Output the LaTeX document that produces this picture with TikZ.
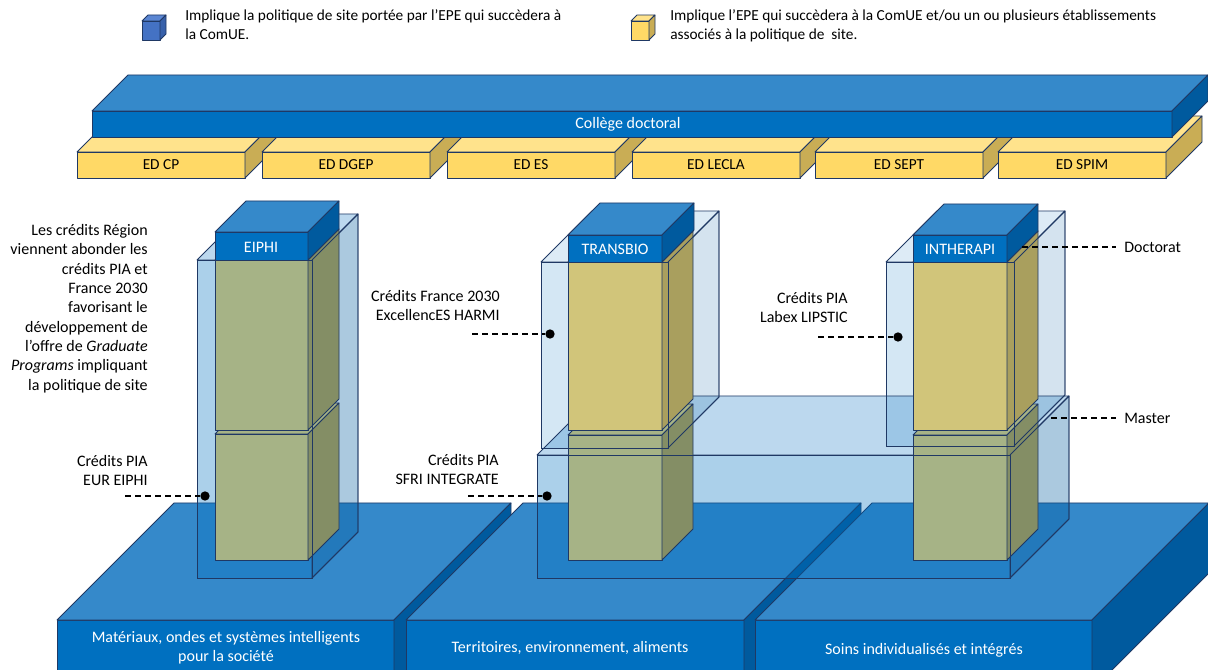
\documentclass[tikz,border=0pt]{standalone}
\usepackage{fontspec}
\setmainfont{Carlito}
\usetikzlibrary{positioning}

\definecolor{edge}{HTML}{1F3864}
\definecolor{bluefront}{HTML}{0070C0}
\definecolor{bluetop}{HTML}{3589CA}
\definecolor{blueside}{HTML}{005A9E}
\definecolor{edfront}{HTML}{FFD966}
\definecolor{edtop}{HTML}{FFE38C}
\definecolor{edside}{HTML}{C9AD55}
\definecolor{docfront}{HTML}{D1C57A}
\definecolor{docside}{HTML}{A99F5E}
\definecolor{masfront}{HTML}{A6B386}
\definecolor{masside}{HTML}{848E65}
\definecolor{legblue}{HTML}{4472C4}
\definecolor{legbluetop}{HTML}{5B86D3}
\definecolor{legblueside}{HTML}{3760AA}

% box seen from the front: [opts]{x}{y}{width}{height}{depth}{front}{top}{side}
\newcommand{\cuboid}[9][]{%
  \path[#1, fill=#7] (#2,#3) rectangle ++(#4,#5);
  \path[#1, fill=#8] (#2,#3) -- ++(#6,-#6) -- ++(#4,0) -- ++(-#6,#6) -- cycle;
  \path[#1, fill=#9] ({#2+#4},#3) -- ++(#6,-#6) -- ++(0,#5) -- ++(-#6,#6) -- cycle;
}
% front and side edges only of a glass box: {x}{y}{width}{height}{depth}
\newcommand{\glassfront}[5]{%
  \draw[rim] (#1,#2) rectangle ++(#3,#4);
  \draw[rim] ({#1+#3},#2) -- ++(#5,-#5) -- ++(0,#4) -- ++(-#5,#5);
}

\begin{document}
\begin{tikzpicture}[
    x=0.75pt, y=-0.75pt,
    solid/.style={draw=edge, line width=0.6pt, line join=round},
    glass/.style={fill opacity=0.33},
    haze/.style={fill opacity=0.17},
    rim/.style={draw=edge, line width=0.6pt, line join=round, fill=none},
    lbl/.style={font=\fontsize{12}{14.5}\selectfont, align=right, inner sep=0pt},
    legtxt/.style={font=\fontsize{11.5}{14.2}\selectfont, align=left, inner sep=0pt},
    edtxt/.style={font=\fontsize{11.5}{12}\selectfont},
    whitetxt/.style={text=white, font=\fontsize{12}{14.2}\selectfont, align=center},
    lead/.style={dash pattern=on 4.5pt off 3pt, line width=0.8pt},
    dot/.style={circle, fill=black, inner sep=0pt, minimum size=7pt}
]
\useasboundingbox (0,0) rectangle (1208,670);
\clip (0,0) rectangle (1208,670);

% legend
\cuboid[solid]{142}{21}{18}{19}{6}{legblue}{legbluetop}{legblueside}
\node[legtxt, anchor=north west] (legsite) at (185,9)
  {Implique la politique de site portée par l’EPE qui succèdera à\\la ComUE.};
\cuboid[solid]{631}{21}{18}{19}{6}{edfront}{edtop}{edside}
\node[legtxt, anchor=north west] (legassoc) at (670,9)
  {Implique l’EPE qui succèdera à la ComUE et/ou un ou plusieurs établissements\\associés à la politique de~~site.};

% ecoles doctorales
\foreach \x/\ed in {77/ED CP, 262/ED DGEP, 447/ED ES, 632/ED LECLA, 815/ED SEPT, 998/ED SPIM}{
  \cuboid[solid]{\x}{152}{168}{26}{36}{edfront}{edtop}{edside}
  \node[edtxt] (ed\x) at (\x+84,165) {\ed};
}

% college doctoral
\cuboid[solid]{92}{111}{1080}{26}{36}{bluefront}{bluetop}{blueside}
\node[whitetxt] (college) at (628,124) {Collège doctoral};

% domaines
\cuboid[solid]{57}{620}{337}{70}{117}{bluefront}{bluetop}{blueside}
\cuboid[solid]{406}{620}{338}{70}{117}{bluefront}{bluetop}{blueside}
\cuboid[solid]{755}{620}{337}{70}{117}{bluefront}{bluetop}{blueside}
\node[whitetxt] (dom1) at (226,648) {Matériaux, ondes et systèmes intelligents\\pour la société};
\node[whitetxt] (dom2) at (570,648) {Territoires, environnement, aliments};
\node[whitetxt] (dom3) at (924,650) {Soins individualisés et intégrés};

% glass boxes, filled behind the columns
\cuboid[glass]{197}{260}{115}{318}{46}{bluefront}{bluetop}{blueside}
\cuboid[glass]{537}{455}{473}{123}{59}{bluefront}{bluetop}{blueside}
\cuboid[haze]{541}{262}{127}{186}{51}{bluefront}{bluetop}{blueside}
\cuboid[haze]{886}{262}{128}{184}{51}{bluefront}{bluetop}{blueside}
\cuboid[rim]{197}{260}{115}{318}{46}{none}{none}{none}
\cuboid[rim]{537}{455}{473}{123}{59}{none}{none}{none}
\cuboid[rim]{541}{262}{127}{186}{51}{none}{none}{none}
\cuboid[rim]{886}{262}{128}{184}{51}{none}{none}{none}

% columns: master then doctorat
\cuboid[solid]{215}{434}{93}{126}{31}{masfront}{masfront}{masside}
\cuboid[solid]{215}{260}{93}{170}{31}{masfront}{masfront}{masside}
\cuboid[solid]{568}{435}{94}{125}{31}{masfront}{masfront}{masside}
\cuboid[solid]{568}{262}{94}{168}{31}{docfront}{docfront}{docside}
\cuboid[solid]{913}{435}{94}{125}{31}{masfront}{masfront}{masside}
\cuboid[solid]{913}{262}{94}{168}{31}{docfront}{docfront}{docside}

% glass box edges in front of the columns
\glassfront{197}{260}{115}{318}{46}
\glassfront{537}{455}{473}{123}{59}
\glassfront{541}{262}{127}{186}{51}
\glassfront{886}{262}{128}{184}{51}

% caps
\cuboid[solid]{215}{232}{93}{28}{31}{bluefront}{bluetop}{blueside}
\cuboid[solid]{568}{235}{94}{27}{32}{bluefront}{bluetop}{blueside}
\cuboid[solid]{913}{235}{94}{27}{31}{bluefront}{bluetop}{blueside}
\node[whitetxt] (eiphi) at (261,247) {EIPHI};
\node[whitetxt] (transbio) at (615,249) {TRANSBIO};
\node[whitetxt] (intherapi) at (960,249) {INTHERAPI};

% funding labels
\node[lbl, anchor=north east] (region) at (148,224)
  {Les crédits Région\\viennent abonder les\\crédits PIA et\\France 2030\\favorisant le\\développement de\\l’offre de \textit{Graduate}\\\textit{Programs} impliquant\\la politique de site};

\node[lbl, anchor=north east] (eur) at (148,455) {Crédits PIA\\EUR EIPHI};
\coordinate (eurstart) at (125,496);
\node[dot] (eurdot) at (205,496) {};
\draw[lead] (eurstart) -- (eurdot);

\node[lbl, anchor=north east] (harmi) at (500,290) {Crédits France 2030\\ExcellencES HARMI};
\coordinate (harmistart) at (472,334);
\node[dot] (harmidot) at (550,334) {};
\draw[lead] (harmistart) -- (harmidot);

\node[lbl, anchor=north east] (sfri) at (499,454) {Crédits PIA\\SFRI INTEGRATE};
\coordinate (sfristart) at (468,496);
\node[dot] (sfridot) at (547,496) {};
\draw[lead] (sfristart) -- (sfridot);

\node[lbl, anchor=north east] (lipstic) at (848,292) {Crédits PIA\\Labex LIPSTIC};
\coordinate (lipsticstart) at (818,337);
\node[dot] (lipsticdot) at (898,337) {};
\draw[lead] (lipsticstart) -- (lipsticdot);

% levels
\node[lbl, anchor=west, inner sep=6pt] (doctorat) at (1116,247) {Doctorat};
\coordinate (docstart) at (1022,247);
\draw[lead] (docstart) -- (doctorat.west);
\node[lbl, anchor=west, inner sep=6pt] (master) at (1116,418) {Master};
\coordinate (masstart) at (1051,418);
\draw[lead] (masstart) -- (master.west);

\end{tikzpicture}
\end{document}
